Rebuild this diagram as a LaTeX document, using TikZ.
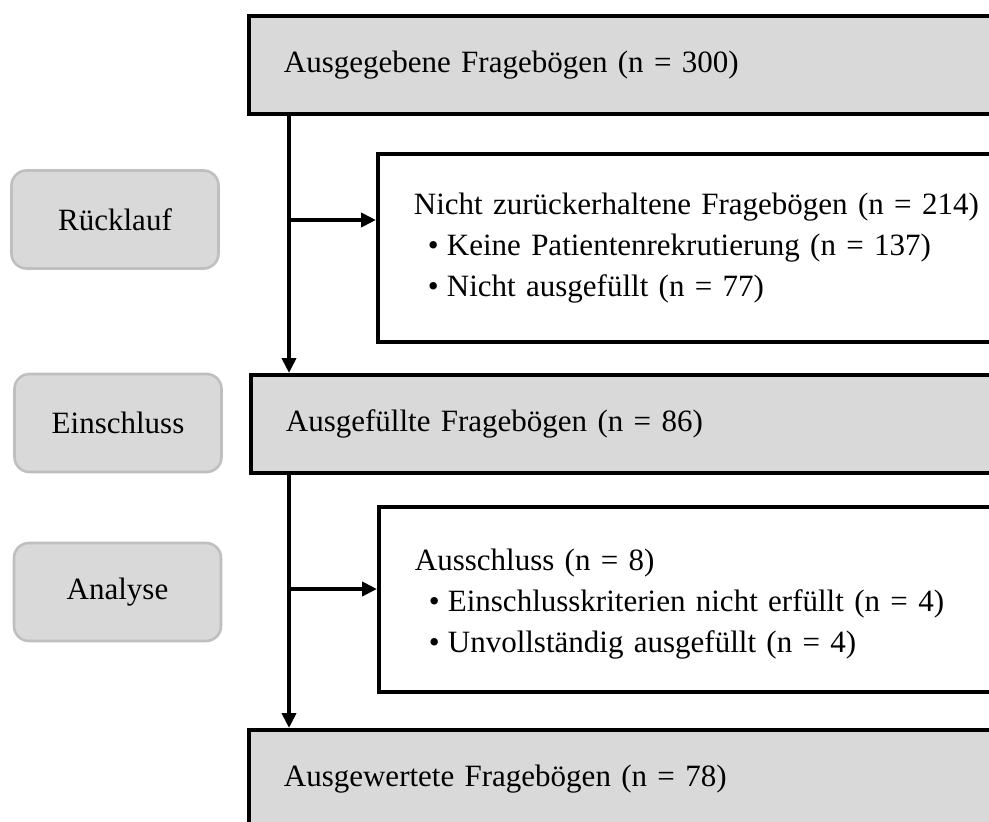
\documentclass[tikz,border=0pt]{standalone}
\usepackage{fontspec}
\setmainfont{Liberation Serif}
\usetikzlibrary{arrows.meta}
\definecolor{boxgray}{HTML}{D9D9D9}
\definecolor{sidegray}{HTML}{BFBFBF}
\newcommand{\fs}{\fontsize{31}{41}\selectfont}
\newcommand{\bul}{\hspace*{14pt}\makebox[19pt][l]{\textbullet}}
\begin{document}
\begin{tikzpicture}[x=1pt,y=-1pt,
  mainbox/.style={draw=black, line width=3.8pt, fill=boxgray, minimum height=98pt,
    text width=720pt, inner xsep=35pt, inner ysep=0pt, align=left, font=\fs, anchor=north west},
  outbox/.style={draw=black, line width=3.8pt, fill=white, text width=720pt,
    inner xsep=36pt, inner ysep=0pt, align=left, font=\fs, anchor=north west},
  sidebox/.style={draw=sidegray, line width=2.6pt, fill=boxgray, rounded corners=15pt,
    minimum width=207pt, minimum height=98pt, font=\fs},
  flow/.style={line width=4.4pt, -{Triangle[length=15pt,width=14pt]}}]
\useasboundingbox (0,0) rectangle (989,822);
\clip (0,0) rectangle (989,822);

% side labels
\node[sidebox] (r) at (115,219.5) {Rücklauf};
\node[sidebox] (e) at (118,423) {Einschluss};
\node[sidebox] (a) at (117.5,592) {Analyse};

% main boxes
\node[mainbox] (b1) at (247,14) {Ausgegebene Fragebögen (n = 300)};
\node[mainbox] (b2) at (249,373) {Ausgefüllte Fragebögen (n = 86)};
\node[mainbox] (b3) at (247,728) {Ausgewertete Fragebögen (n = 78)};

% exclusion boxes
\node[outbox, minimum height=188pt] (n1) at (376,152) {Nicht zurückerhaltene Fragebögen (n = 214)\\
\bul Keine Patientenrekrutierung (n = 137)\\
\bul Nicht ausgefüllt (n = 77)};
\node[outbox, minimum height=185pt] (n2) at (377,505) {\rule{0pt}{31pt}Ausschluss (n = 8)\\
\bul Einschlusskriterien nicht erfüllt (n = 4)\\
\bul Unvollständig ausgefüllt (n = 4)};

% connectors
\coordinate (t) at (289,0);
\coordinate (j1) at (289,220);
\coordinate (j2) at (289,589);
\draw[flow] (b1.south -| t) -- (b2.north -| t);
\draw[flow] (j1) -- (j1 -| n1.west);
\draw[flow] (b2.south -| t) -- (b3.north -| t);
\draw[flow] (j2) -- (j2 -| n2.west);
\end{tikzpicture}
\end{document}
